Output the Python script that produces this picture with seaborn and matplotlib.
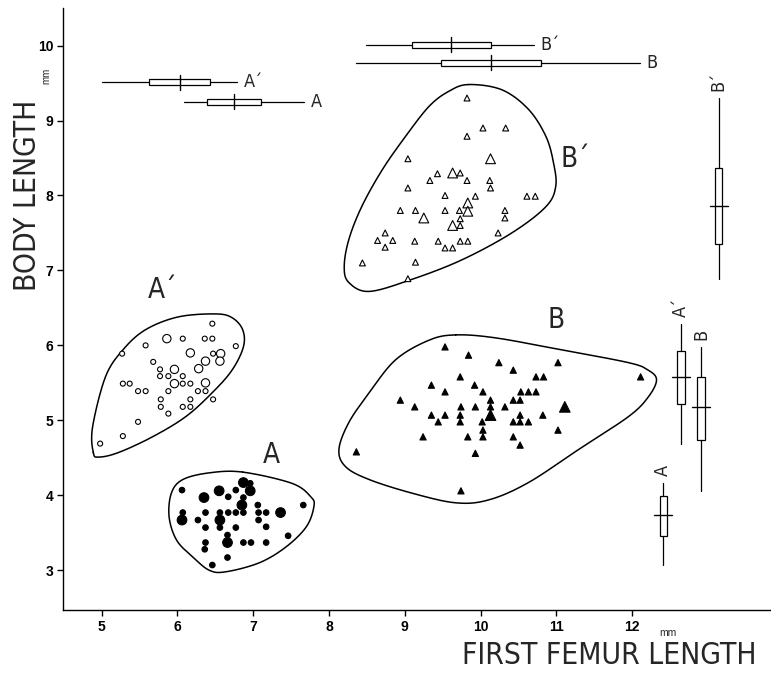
import numpy as np
import pandas as pd
import matplotlib
matplotlib.use("Agg")
import matplotlib.pyplot as plt
import seaborn as sns
from matplotlib.patches import Rectangle
from matplotlib import font_manager as fm

# -----------------------------
# data: first femur length (x, mm) / body length (y, mm)
# big = 1 -> larger symbol
# -----------------------------
a2_x = [6.46, 5.86, 6.07, 6.36, 6.46, 5.58, 5.27, 6.77, 6.17, 6.47, 6.57, 6.37, 6.56, 5.68,
        5.77, 5.77, 5.96, 6.28, 6.07, 5.88, 5.28, 5.37, 5.96, 6.07, 6.17, 6.37, 5.48, 5.58,
        5.88, 6.27, 6.37, 5.78, 6.17, 6.47, 5.78, 6.07, 6.17, 5.88, 5.48, 5.28, 4.98]
a2_y = [6.29, 6.09, 6.09, 6.09, 6.09, 6.00, 5.89, 5.99, 5.90, 5.89, 5.89, 5.79, 5.79, 5.78,
        5.68, 5.59, 5.68, 5.69, 5.59, 5.59, 5.49, 5.49, 5.49, 5.49, 5.49, 5.50, 5.39, 5.39,
        5.39, 5.39, 5.39, 5.28, 5.28, 5.28, 5.18, 5.18, 5.18, 5.09, 4.98, 4.79, 4.69]
a2_big = [0, 1, 0, 0, 0, 0, 0, 0, 1, 0, 1, 1, 1, 0, 0, 0, 1, 1, 0, 0, 0, 0, 1, 0, 0, 1, 0, 0,
          0, 0, 0, 0, 0, 0, 0, 0, 0, 0, 0, 0, 0]

a_x = [6.06, 6.55, 6.35, 6.67, 6.77, 6.87, 6.96, 6.96, 6.87, 6.85, 7.06, 7.66, 6.07, 6.37,
       6.56, 6.67, 6.77, 6.87, 7.07, 7.17, 7.36, 6.06, 6.27, 6.56, 7.07, 6.37, 6.56, 6.77,
       7.17, 7.46, 6.66, 6.37, 6.66, 6.87, 6.97, 7.17, 6.36, 6.66, 6.46]
a_y = [4.07, 4.06, 3.97, 3.98, 4.07, 4.17, 4.16, 4.06, 3.97, 3.87, 3.87, 3.87, 3.77, 3.77,
       3.77, 3.77, 3.77, 3.77, 3.77, 3.77, 3.77, 3.67, 3.67, 3.67, 3.67, 3.57, 3.57, 3.57,
       3.58, 3.46, 3.47, 3.37, 3.37, 3.37, 3.37, 3.37, 3.28, 3.17, 3.07]
a_big = [0, 1, 1, 0, 0, 1, 0, 1, 0, 1, 0, 0, 0, 0, 0, 0, 0, 0, 0, 0, 1, 1, 0, 1, 0, 0, 0, 0,
         0, 0, 0, 0, 1, 0, 0, 0, 0, 0, 0]

b2_x = [9.82, 10.03, 10.33, 9.82, 9.04, 10.13, 9.43, 9.63, 9.73, 9.33, 9.82, 10.12, 9.04,
        10.13, 9.53, 9.93, 10.61, 10.72, 9.83, 8.94, 9.14, 9.53, 9.72, 9.83, 9.25, 9.73,
        10.32, 10.32, 9.63, 9.73, 8.74, 10.23, 8.64, 8.84, 9.13, 9.44, 9.73, 9.83, 8.74,
        9.53, 9.63, 8.44, 9.14, 9.04]
b2_y = [9.30, 8.90, 8.90, 8.79, 8.49, 8.49, 8.29, 8.30, 8.30, 8.20, 8.20, 8.20, 8.10, 8.10,
        8.00, 7.99, 7.99, 7.99, 7.90, 7.80, 7.80, 7.80, 7.80, 7.79, 7.70, 7.69, 7.80, 7.70,
        7.60, 7.60, 7.50, 7.50, 7.40, 7.40, 7.39, 7.39, 7.39, 7.39, 7.31, 7.30, 7.30, 7.10,
        7.11, 6.89]
b2_big = [0, 0, 0, 0, 0, 1, 0, 1, 0, 0, 0, 0, 0, 0, 0, 0, 0, 0, 1, 0, 0, 0, 0, 1, 1, 0, 0,
          0, 1, 0, 0, 0, 0, 0, 0, 0, 0, 0, 0, 0, 0, 0, 0, 0]

b_x = [9.53, 9.84, 10.24, 11.02, 12.11, 10.43, 9.73, 10.73, 10.83, 9.35, 9.92, 9.53, 10.03,
       10.53, 10.63, 10.73, 8.94, 10.13, 10.43, 10.52, 9.13, 9.74, 9.93, 10.13, 10.32, 11.11,
       10.13, 9.35, 9.53, 9.73, 10.52, 10.82, 9.44, 9.73, 10.02, 10.43, 10.52, 10.63, 10.03,
       11.02, 9.24, 9.83, 10.03, 10.43, 10.52, 8.36, 9.93, 9.74]
b_y = [5.98, 5.87, 5.77, 5.77, 5.58, 5.67, 5.58, 5.58, 5.58, 5.47, 5.47, 5.38, 5.38, 5.38,
       5.38, 5.38, 5.27, 5.27, 5.27, 5.27, 5.18, 5.18, 5.18, 5.18, 5.18, 5.18, 5.07, 5.07,
       5.07, 5.07, 5.07, 5.07, 4.98, 4.98, 4.98, 4.98, 4.98, 4.98, 4.87, 4.87, 4.78, 4.78,
       4.78, 4.78, 4.67, 4.58, 4.56, 4.06]
b_big = [0] * 25 + [1, 1] + [0] * 21

# envelopes drawn round each group
hull_a2_x = [4.89, 4.88, 5.05, 5.28, 5.58, 6.01, 6.50, 6.72, 6.86, 6.87, 6.72, 6.46, 6.11, 5.67, 5.22, 4.96]
hull_a2_y = [4.57, 4.91, 5.58, 5.94, 6.21, 6.38, 6.42, 6.37, 6.21, 5.98, 5.67, 5.37, 5.05, 4.78, 4.57, 4.51]
hull_a_x = [6.86, 7.51, 7.76, 7.80, 7.70, 7.43, 7.08, 6.64, 6.42, 6.20, 5.99, 5.89, 5.92, 6.07, 6.42]
hull_a_y = [4.31, 4.16, 3.98, 3.85, 3.58, 3.31, 3.10, 2.98, 3.00, 3.18, 3.40, 3.71, 4.03, 4.21, 4.30]
hull_b2_x = [9.84, 10.28, 10.63, 10.86, 10.96, 10.99, 10.86, 10.41, 9.75, 9.09, 8.53, 8.26, 8.20,
             8.26, 8.43, 8.70, 9.01, 9.32, 9.58]
hull_b2_y = [9.48, 9.41, 9.15, 8.79, 8.44, 8.12, 7.85, 7.50, 7.14, 6.88, 6.72, 6.84, 7.05,
             7.41, 7.85, 8.34, 8.79, 9.19, 9.39]
hull_b_x = [9.67, 9.32, 8.88, 8.53, 8.26, 8.13, 8.22, 8.53, 9.09, 9.67, 10.11, 10.63, 11.29,
            11.95, 12.21, 12.32, 12.21, 11.95, 11.07, 10.20]
hull_b_y = [6.14, 6.07, 5.81, 5.37, 4.97, 4.61, 4.38, 4.21, 4.03, 3.90, 3.94, 4.17, 4.61,
            5.05, 5.31, 5.54, 5.67, 5.77, 5.94, 6.10]

# range / box summaries: min, box low, mean, box high, max
groups = ["A´", "A", "B´", "B"]
femur_stats = [[5.00, 5.62, 6.03, 6.43, 6.78],
               [6.08, 6.39, 6.74, 7.10, 7.67],
               [8.49, 9.09, 9.61, 10.13, 10.70],
               [8.36, 9.48, 10.14, 10.79, 12.10]]
body_stats = [[4.69, 5.22, 5.58, 5.93, 6.29],
              [3.07, 3.46, 3.74, 3.99, 4.17],
              [6.89, 7.35, 7.86, 8.37, 9.30],
              [4.06, 4.74, 5.18, 5.58, 5.98]]

# where the summary bars and group letters sit (layout)
femur_bar_y = [9.51, 9.25, 10.01, 9.77]
body_bar_x = [12.64, 12.41, 13.14, 12.91]
letter_pos = [(5.80, 6.74), (7.24, 4.54), (11.25, 8.48), (10.99, 6.34)]

x_ticks = [5, 6, 7, 8, 9, 10, 11, 12]
y_ticks = [3, 4, 5, 6, 7, 8, 9, 10]

# -----------------------------
# DataFrame
# -----------------------------
parts = []
for name, xs, ys, bigs in [(groups[0], a2_x, a2_y, a2_big), (groups[1], a_x, a_y, a_big),
                           (groups[2], b2_x, b2_y, b2_big), (groups[3], b_x, b_y, b_big)]:
    parts.append(pd.DataFrame({"femur": xs, "body": ys, "group": name,
                               "big": ["large" if v else "small" for v in bigs]}))
df = pd.concat(parts, ignore_index=True)


def smooth_closed(xs, ys, n=24):
    p = np.column_stack([xs, ys])
    m = len(p)
    t = np.linspace(0, 1, n, endpoint=False)[:, None]
    segs = []
    for i in range(m):
        p0, p1, p2, p3 = p[i - 1], p[i], p[(i + 1) % m], p[(i + 2) % m]
        segs.append(0.5 * (2 * p1 + (-p0 + p2) * t + (2 * p0 - 5 * p1 + 4 * p2 - p3) * t ** 2
                           + (-p0 + 3 * p1 - 3 * p2 + p3) * t ** 3))
    out = np.vstack(segs + [segs[0][:1]])
    return out[:, 0], out[:, 1]


def pick_narrow():
    # look for an installed condensed / narrow face, regular weight
    heavy = ("bold", "semibold", "demibold", "heavy", "black", "600", "700", "800", "900")
    for f in fm.fontManager.ttflist:
        key = (f.name + " " + f.fname + " " + str(f.stretch)).lower()
        fn = f.fname.lower()
        if f.style != "normal" or any(w in fn for w in ("bold", "italic", "oblique", "black")):
            continue
        if str(f.weight).lower() in heavy:
            continue
        if "narrow" in key or "condensed" in key:
            return fm.FontProperties(fname=f.fname), 1.0
    return fm.FontProperties(family="Liberation Sans"), 0.85


narrow_fp, size_k = pick_narrow()


def nfont(size):
    fp = narrow_fp.copy()
    fp.set_size(size * size_k)
    return fp


# -----------------------------
# style
# -----------------------------
sns.set_theme(style="ticks")
plt.rcParams["font.family"] = ["Liberation Sans", "DejaVu Sans"]

fig = plt.figure(figsize=(7.71, 6.73), dpi=100)
ax = fig.add_axes([0.0817, 0.0936, 0.9183, 0.8944])

marker_style = {groups[0]: ("o", "white", 13, 36),
                groups[1]: ("o", "black", 16, 48),
                groups[2]: ("^", "white", 18, 50),
                groups[3]: ("^", "black", 20, 58)}
for g in groups:
    mk, fc, s_small, s_big = marker_style[g]
    sns.scatterplot(data=df[df["group"] == g], x="femur", y="body", size="big",
                    sizes={"small": s_small, "large": s_big}, marker=mk, color=fc,
                    edgecolor="black", linewidth=0.8, legend=False, ax=ax, zorder=3)

for hx, hy in [(hull_a2_x, hull_a2_y), (hull_a_x, hull_a_y),
               (hull_b2_x, hull_b2_y), (hull_b_x, hull_b_y)]:
    sx, sy = smooth_closed(hx, hy)
    ax.plot(sx, sy, color="black", lw=1.1)

# horizontal summary bars (femur length)
bh = 0.085
for g, st, yb in zip(groups, femur_stats, femur_bar_y):
    lo, q1, med, q3, hi = st
    ax.plot([lo, q1], [yb, yb], color="black", lw=0.9)
    ax.plot([q3, hi], [yb, yb], color="black", lw=0.9)
    ax.add_patch(Rectangle((q1, yb - bh / 2), q3 - q1, bh, fill=False, ec="black", lw=0.9))
    ax.plot([med, med], [yb - 0.1, yb + 0.1], color="black", lw=1.0)
    ax.annotate(g, (hi, yb), xytext=(5, 0), textcoords="offset points", ha="left",
                va="center", fontproperties=nfont(13))

# vertical summary bars (body length)
bw = 0.1
for g, st, xb in zip(groups, body_stats, body_bar_x):
    lo, q1, med, q3, hi = st
    ax.plot([xb, xb], [lo, q1], color="black", lw=0.9)
    ax.plot([xb, xb], [q3, hi], color="black", lw=0.9)
    ax.add_patch(Rectangle((xb - bw / 2, q1), bw, q3 - q1, fill=False, ec="black", lw=0.9))
    ax.plot([xb - 0.12, xb + 0.12], [med, med], color="black", lw=1.0)
    ax.annotate(g, (xb, hi), xytext=(0, 5), textcoords="offset points", ha="center",
                va="bottom", rotation=90, fontproperties=nfont(13))

# cluster letters
for g, (lx, ly) in zip(groups, letter_pos):
    ax.text(lx, ly, g, ha="center", va="center", fontproperties=nfont(20))

ax.set_xlim(4.49, 13.83)
ax.set_ylim(2.47, 10.5)
ax.set_xticks(x_ticks)
ax.set_yticks(y_ticks)
ax.set_xticklabels([str(v) for v in x_ticks], fontsize=10, fontweight="bold")
ax.set_yticklabels([str(v) for v in y_ticks], fontsize=10, fontweight="bold")
ax.tick_params(direction="out", length=4, width=1.0, pad=3, colors="black")
ax.set_xlabel("")
ax.set_ylabel("")
sns.despine(ax=ax)
for sp in ["left", "bottom"]:
    ax.spines[sp].set_linewidth(1.0)
    ax.spines[sp].set_color("black")

fig.text(757 / 771, 1 - 655 / 673, "FIRST FEMUR LENGTH", ha="right", va="center",
         fontproperties=nfont(21.5))
fig.text(28 / 771, 1 - 195 / 673, "BODY LENGTH", ha="center", va="center", rotation=90,
         fontproperties=nfont(21.5))
fig.text(668 / 771, 1 - 633 / 673, "mm", ha="center", va="center", fontsize=7.5)
fig.text(46 / 771, 1 - 76 / 673, "mm", ha="center", va="center", rotation=90, fontsize=7)

fig.savefig("out.png", dpi=100)
